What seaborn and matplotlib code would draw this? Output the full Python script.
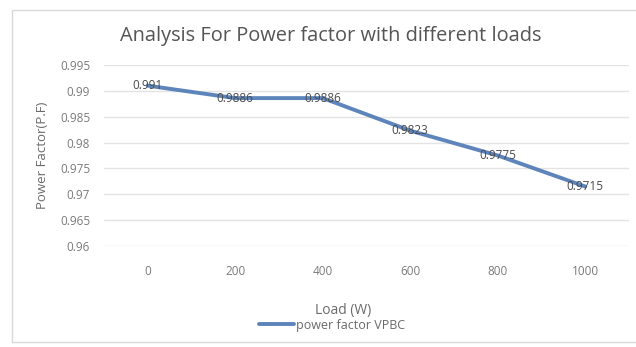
import matplotlib
matplotlib.use("Agg")
import matplotlib.pyplot as plt
import seaborn as sns
import pandas as pd
from matplotlib.patches import Rectangle
from matplotlib.lines import Line2D

loads = ["0", "200", "400", "600", "800", "1000"]
power_factor = [0.991, 0.9886, 0.9886, 0.9823, 0.9775, 0.9715]
point_labels = ["0.991", "0.9886", "0.9886", "0.9823", "0.9775", "0.9715"]
y_ticks = [0.96, 0.965, 0.97, 0.975, 0.98, 0.985, 0.99, 0.995]
y_tick_labels = ["0.96", "0.965", "0.97", "0.975", "0.98", "0.985", "0.99", "0.995"]
series_name = "power factor VPBC"

sns.set_theme(style="white")
plt.rcParams["font.family"] = ["Open Sans", "DejaVu Sans"]

df = pd.DataFrame({"Load": loads, "PF": power_factor, "series": series_name})

fig = plt.figure(figsize=(6.36, 3.47), dpi=100)
fig.patch.set_facecolor("white")
fig.patches.append(Rectangle((12/636, 1-342/347), 1.2, (342-10)/347, transform=fig.transFigure,
                             fill=False, edgecolor="#d9d9d9", linewidth=1.0))

ax = fig.add_axes([104/636, 1-246/347, 525/636, (246-65)/347])
line_color = "#5d85bb"
sns.lineplot(data=df, x="Load", y="PF", hue="series", palette=[line_color],
             linewidth=2.8, ax=ax, legend=False, sort=False)

ax.set_xlim(-0.5, len(loads) - 0.5)
ax.set_ylim(y_ticks[0], y_ticks[-1])
ax.set_yticks(y_ticks)
ax.set_yticklabels(y_tick_labels)
ax.grid(axis="y", color="#e3e3e3", linewidth=1.0)
ax.grid(axis="x", visible=False)
for s in ax.spines.values():
    s.set_visible(False)
ax.tick_params(axis="both", length=0, labelsize=8.5, colors="#7a7a7a")
ax.tick_params(axis="x", pad=14)
ax.tick_params(axis="y", pad=10)

for i, (v, t) in enumerate(zip(power_factor, point_labels)):
    ax.text(i, v, t, ha="center", va="center", fontsize=8.5, color="#4a4a4a")

ax.set_xlabel("Load (W)", fontsize=10, color="#6a6a6a")
ax.xaxis.set_label_coords((343-104)/525, -(303-246)/181)
ax.set_ylabel("Power Factor(P.F)", fontsize=9.5, color="#6a6a6a")
ax.yaxis.set_label_coords(-(104-49)/525, 0.5)
fig.text(331/636, 1-36/347, "Analysis For Power factor with different loads",
         ha="center", va="center", fontsize=14.4, color="#555555")

handle = Line2D([], [], color=line_color, linewidth=2.8)
fig.legend([handle], [series_name], loc="center", bbox_to_anchor=(332/636, 1-325/347),
           frameon=False, fontsize=9, handlelength=2.8, handletextpad=0.2,
           labelcolor="#6a6a6a")

fig.savefig("out.png", dpi=100, facecolor="white")
